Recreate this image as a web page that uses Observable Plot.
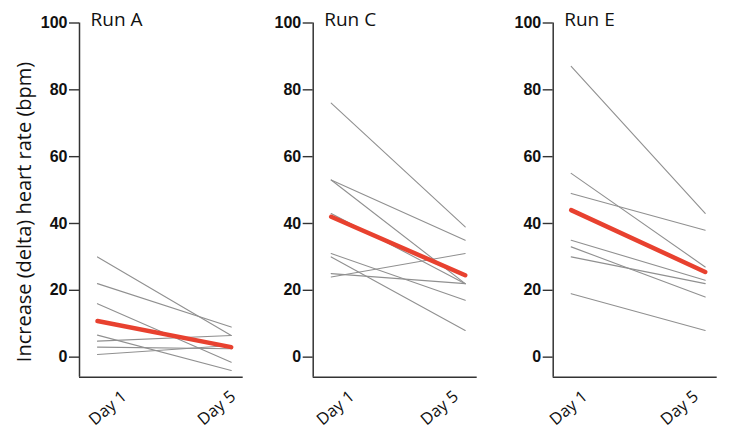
<!DOCTYPE html>
<html>
<head>
<meta charset="utf-8">
<script src="https://cdn.jsdelivr.net/npm/d3@7"></script>
<script src="https://cdn.jsdelivr.net/npm/@observablehq/plot@0.6"></script>
<style>
  html, body { margin: 0; padding: 0; background: #fff; }
  #root { position: relative; width: 729px; height: 435px; overflow: hidden; }
  .panel { position: absolute; top: 0; }
  #ylabel {
    position: absolute; left: 22.5px; top: 212px;
    transform: translate(-50%, -50%) rotate(-90deg);
    white-space: nowrap; font-family: "Open Sans", sans-serif; font-size: 20px; color: #111;
  }
</style>
</head>
<body>
<div id="root"><div id="ylabel">Increase (delta) heart rate (bpm)</div></div>
<script>
// Data
const days = [1, 5];
const dayLabels = ["Day 1", "Day 5"];
const yTicks = [0, 20, 40, 60, 80, 100];
const runNames = ["Run A", "Run C", "Run E"];
const xDomain = [0.463, 5.358];
const yDomain = [-6, 100];

const runA_day1 = [30, 22, 16, 6.6, 4.8, 3.0, 0.8];
const runA_day5 = [6.5, 9.0, -1.5, -4.0, 6.5, 2.5, 3.5];
const runA_mean = [10.8, 3.0];

const runC_day1 = [76, 53, 53, 43, 31, 30, 25, 24];
const runC_day5 = [39, 35, 22, 22, 17, 8, 22, 31];
const runC_mean = [42, 24.5];

const runE_day1 = [87, 55, 49, 35, 33, 30, 19];
const runE_day5 = [43, 27, 38, 23, 18, 22, 8];
const runE_mean = [44, 25.5];

function toRows(d1, d5) {
  const rows = [];
  d1.forEach((v, i) => {
    rows.push({subject: i, day: days[0], value: v});
    rows.push({subject: i, day: days[1], value: d5[i]});
  });
  return rows;
}
function meanRows(m) { return days.map((d, i) => ({day: d, value: m[i]})); }

const panels = [
  {name: runNames[0], d1: runA_day1, d5: runA_day5, mean: runA_mean, left: 0,   width: 250, ml: 79,   mr: 7.3,  dx1: 27, dx5: 2},
  {name: runNames[1], d1: runC_day1, d5: runC_day5, mean: runC_mean, left: 250, width: 240, ml: 62.7, mr: 13.3, dx1: 21, dx5: -9},
  {name: runNames[2], d1: runE_day1, d5: runE_day5, mean: runE_mean, left: 490, width: 239, ml: 62.7, mr: 12.3, dx1: 14, dx5: -9}
];

const root = document.getElementById("root");
const labelFont = "'Open Sans', sans-serif";
const axisColor = "#333";

panels.forEach(p => {
  const chart = Plot.plot({
    width: p.width,
    height: 435,
    marginLeft: p.ml,
    marginRight: p.mr,
    marginTop: 22.5,
    marginBottom: 58.3,
    style: {background: "transparent", overflow: "visible"},
    x: {domain: xDomain, axis: null},
    y: {domain: yDomain, axis: null},
    marks: [
      Plot.ruleX([xDomain[0]], {stroke: axisColor, strokeWidth: 1.5}),
      Plot.ruleY([yDomain[0]], {stroke: axisColor, strokeWidth: 1.5}),
      Plot.axisY({ticks: yTicks, tickSize: 10, tickPadding: 2, stroke: axisColor, strokeWidth: 1.4,
        fontSize: 16, fontWeight: "bold", fontFamily: "'Liberation Sans', Arial, sans-serif", fill: "#111", label: null}),
      Plot.axisX({ticks: [days[0]], tickFormat: () => dayLabels[0], tickSize: 0, tickPadding: 8, tickRotate: -40,
        dx: p.dx1, dy: 9, fontSize: 16.5, fontFamily: labelFont, fill: "#111", label: null}),
      Plot.axisX({ticks: [days[1]], tickFormat: () => dayLabels[1], tickSize: 0, tickPadding: 8, tickRotate: -40,
        dx: p.dx5, dy: 9, fontSize: 16.5, fontFamily: labelFont, fill: "#111", label: null}),
      Plot.line(toRows(p.d1, p.d5), {x: "day", y: "value", z: "subject", stroke: "#909090", strokeWidth: 1.1}),
      Plot.line(meanRows(p.mean), {x: "day", y: "value", stroke: "#e8412f", strokeWidth: 4.5}),
      Plot.text([p.name], {frameAnchor: "top-left", text: d => d, dx: 11, dy: -11, textAnchor: "start",
        fontSize: 19, fontFamily: labelFont, fill: "#111"})
    ]
  });
  chart.classList.add("panel");
  chart.style.left = p.left + "px";
  root.appendChild(chart);
});
</script>
</body>
</html>
